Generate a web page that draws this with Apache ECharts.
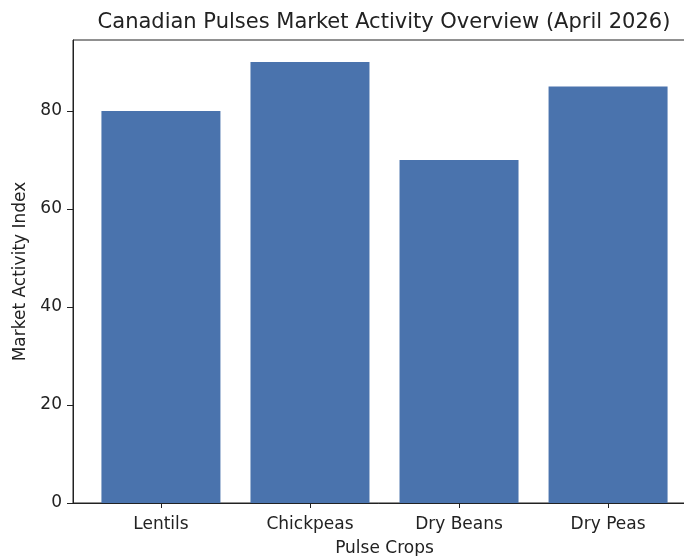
<!DOCTYPE html>
<html><head><meta charset="utf-8">
<script src="https://cdn.jsdelivr.net/npm/echarts@6/dist/echarts.min.js"></script>
<style>html,body{margin:0;padding:0;background:#fff;overflow:hidden}#c{width:684px;height:556px}</style>
</head><body><div id="c"></div>
<script>
var categories = ["Lentils", "Chickpeas", "Dry Beans", "Dry Peas"];
var values = [80, 90, 70, 85];
var yTicks = [0, 20, 40, 60, 80];
var titleText = "Canadian Pulses Market Activity Overview (April 2026)";
var xName = "Pulse Crops";
var yName = "Market Activity Index";

var font = "DejaVu Sans";
var chart = echarts.init(document.getElementById('c'), null, {renderer: 'canvas'});
var idx = categories.map(function(_, i){ return i; });
chart.setOption({
  animation: false,
  backgroundColor: '#fff',
  title: {text: titleText, left: 379, top: 7, textAlign: 'center',
    textStyle: {fontFamily: font, fontSize: 21, fontWeight: 'normal', color: '#222'}},
  grid: {left: 73, top: 40, width: 623, height: 463, show: true, borderColor: '#222', borderWidth: 1,
    backgroundColor: 'transparent', outerBoundsMode: 'none', containLabel: false},
  xAxis: {
    type: 'value', min: -0.59, max: 3.59,
    splitLine: {show: false},
    axisLine: {show: true, onZero: false, lineStyle: {color: '#222', width: 1}},
    axisTick: {show: true, customValues: idx, length: 5, lineStyle: {color: '#222'}},
    axisLabel: {customValues: idx, formatter: function(v){ return categories[Math.round(v)] || ''; },
      fontFamily: font, fontSize: 17, color: '#222', margin: 13},
    name: xName, nameLocation: 'middle', nameGap: 37,
    nameTextStyle: {fontFamily: font, fontSize: 17, color: '#222'}
  },
  yAxis: {
    type: 'value', min: 0, max: 94.5,
    splitLine: {show: false},
    axisLine: {show: true, onZero: false, lineStyle: {color: '#222', width: 1}},
    axisTick: {show: true, customValues: yTicks, length: 6, lineStyle: {color: '#222'}},
    axisLabel: {customValues: yTicks, fontFamily: font, fontSize: 17, color: '#222', margin: 11},
    name: yName, nameLocation: 'middle', nameGap: 41, nameRotate: 90,
    nameTextStyle: {fontFamily: font, fontSize: 17, color: '#222'}
  },
  series: [{
    type: 'bar',
    data: values.map(function(v, i){ return [i, v]; }),
    barWidth: 119,
    itemStyle: {color: '#4a73ad'}
  }]
});
</script></body></html>
